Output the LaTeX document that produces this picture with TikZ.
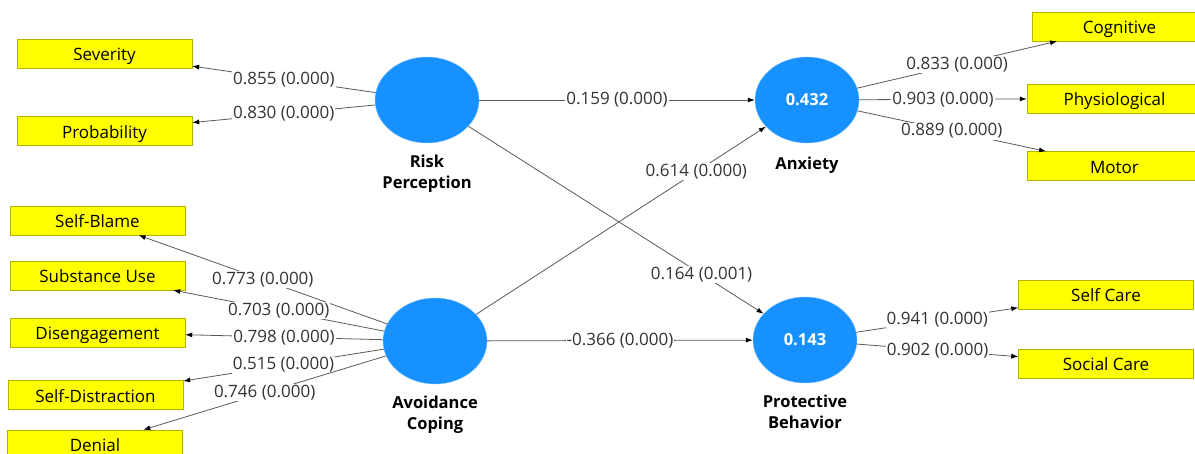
\documentclass[tikz,border=0pt]{standalone}
\usepackage{fontspec}
\setmainfont{Open Sans}
\usetikzlibrary{arrows.meta,shapes.geometric,positioning}
\definecolor{plsblue}{RGB}{22,145,255}
\definecolor{plsyellow}{RGB}{255,255,0}
\tikzset{
  latent/.style={ellipse, fill=plsblue, draw=plsblue!55, minimum width=104pt,
    minimum height=86pt, inner sep=0pt, text=white,
    font=\fontsize{16.5}{19}\selectfont\bfseries},
  latent name/.style={align=center, inner sep=0pt,
    font=\fontsize{16.5}{21}\selectfont\bfseries},
  indicator/.style={rectangle, fill=plsyellow, draw=plsyellow!70!black,
    minimum width=175pt, minimum height=29pt, inner sep=0pt,
    text height=17pt, text depth=2pt, font=\fontsize{17}{19}\selectfont},
  link/.style={draw=black!65, line width=0.8pt,
    -{Latex[length=7pt,width=5pt,color=black]}},
  loading/.style={fill=white, inner sep=1pt, text=black!80,
    font=\fontsize{17}{19}\selectfont},
}

\begin{document}
\begin{tikzpicture}[x=1pt,y=-1pt]
\useasboundingbox (0,0) rectangle (1195,454);
% constructs
\node[latent] (rp) at (427,100) {};
\node[latent] (anx) at (807,100) {0.432};
\node[latent] (ac) at (435,341) {};
\node[latent] (pb) at (805,340) {0.143};
\node[latent name, below=12pt of rp] (rp name) {Risk\\Perception};
\node[latent name, below=14pt of anx] (anx name) {Anxiety};
\node[latent name, below=12pt of ac] (ac name) {Avoidance\\Coping};
\node[latent name, below=12pt of pb] (pb name) {Protective\\Behavior};
% indicators
\node[indicator] (sev) at (104.5,53.5) {Severity};
\node[indicator] (prob) at (104.5,131) {Probability};
\node[indicator] (sb) at (97.5,220.5) {Self-Blame};
\node[indicator] (su) at (97.5,275.5) {Substance Use};
\node[indicator] (dis) at (97.5,332.5) {Disengagement};
\node[indicator] (sd) at (95.5,395) {Self-Distraction};
\node[indicator] (den) at (95,444.5) {Denial};
\node[indicator] (cog) at (1119.5,26.5) {Cognitive};
\node[indicator] (phy) at (1114.5,98.5) {Physiological};
\node[indicator] (mot) at (1114.5,166) {Motor};
\node[indicator] (sc) at (1106,294.5) {Self Care};
\node[indicator] (soc) at (1106,363.5) {Social Care};
% loadings
\foreach \ind/\val in {sev/0.855, prob/0.830}
  \draw[link] (rp) -- node[loading] {\val\ (0.000)} (\ind);
\foreach \ind/\val in {sb/0.773, su/0.703, dis/0.798, sd/0.515, den/0.746}
  \draw[link] (ac) -- node[loading] {\val\ (0.000)} (\ind);
\foreach \ind/\val in {cog/0.833, phy/0.903, mot/0.889}
  \draw[link] (anx) -- node[loading] {\val\ (0.000)} (\ind);
\foreach \ind/\val in {sc/0.941, soc/0.902}
  \draw[link] (pb) -- node[loading] {\val\ (0.000)} (\ind);
% paths
\draw[link] (rp) -- node[loading] {0.159 (0.000)} (anx);
\draw[link] (rp) -- node[loading, pos=0.79] {0.164 (0.001)} (pb);
\draw[link] (ac) -- node[loading, pos=0.76] {0.614 (0.000)} (anx);
\draw[link] (ac) -- node[loading] {-0.366 (0.000)} (pb);
\end{tikzpicture}
\end{document}
